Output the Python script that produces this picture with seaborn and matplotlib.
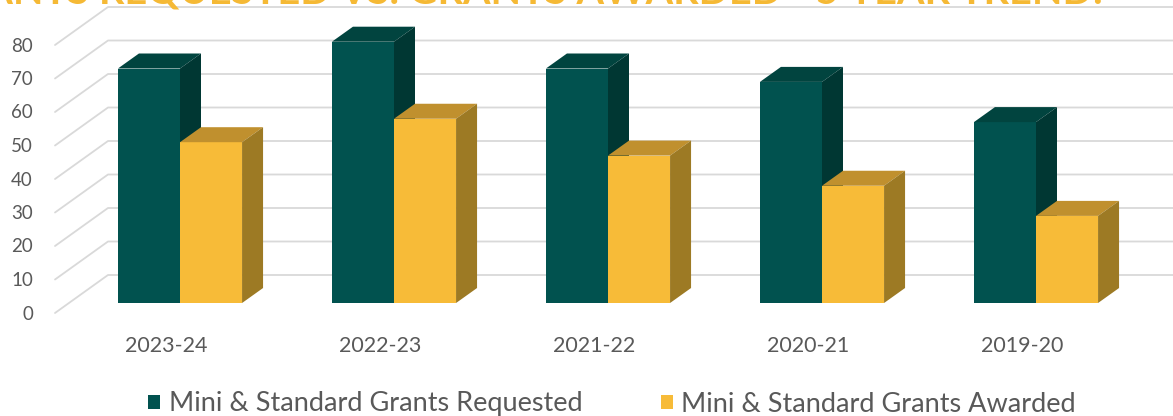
import matplotlib
matplotlib.use("Agg")
import matplotlib.pyplot as plt
import matplotlib.transforms as mtransforms
from matplotlib.patches import Polygon, Patch
from matplotlib.lines import Line2D
import seaborn as sns
import pandas as pd

# ---- data ----
years = ["2023-24", "2022-23", "2021-22", "2020-21", "2019-20"]
requested = [70, 78, 70, 66, 54]
awarded = [48, 55, 44, 35, 26]
series_names = ["Mini & Standard Grants Requested", "Mini & Standard Grants Awarded"]
y_ticks = [0, 10, 20, 30, 40, 50, 60, 70, 80]
title = "GRANTS REQUESTED VS. GRANTS AWARDED - 5 YEAR TREND:"

# ---- style ----
sns.set_theme(style="white")
plt.rcParams["font.family"] = ["Lato", "DejaVu Sans"]
TEXT = "#595959"
GRID = "#D9D9D9"
front_cols = ["#01524F", "#F7BB38"]
top_cols = ["#01443F", "#C0902E"]
side_cols = ["#003733", "#9D7A24"]

W, H, DPI = 1173, 416, 100
fig = plt.figure(figsize=(W / DPI, H / DPI), dpi=DPI)
fig.patch.set_facecolor("white")

# axes = plane of the bars' front faces (pixel geometry)
ax_left, ax_bottom, ax_w, ax_h = 69, 113, 1104, 268
ax = fig.add_axes([ax_left / W, ax_bottom / H, ax_w / W, ax_h / H])

df = pd.DataFrame({
    "year": years * 2,
    "series": [series_names[0]] * len(years) + [series_names[1]] * len(years),
    "value": requested + awarded,
})

sns.barplot(data=df, x="year", y="value", hue="series", order=years,
            hue_order=series_names, palette=front_cols, saturation=1,
            width=0.58, dodge=True, legend=False, ax=ax, linewidth=0)

cat_step = 214.0
xmin = -(180 - ax_left) / cat_step
ax.set_xlim(xmin, xmin + ax_w / cat_step)
ax.set_ylim(0, 80)
ax.set_autoscale_on(False)
for s in ax.spines.values():
    s.set_visible(False)
ax.set_xticks([])
ax.set_yticks([])
ax.set_xlabel("")
ax.set_ylabel("")
ax.patch.set_alpha(0)

# depth offsets (pixels, display coords y-up)
BACK = (39, 28)      # bar plane -> back wall
FRONT = (-14, -10)   # bar plane -> front (label) plane
DEPTH = (21, 15)     # bar depth

ident = mtransforms.IdentityTransform()
def disp(x, y, off=(0, 0)):
    px, py = ax.transData.transform((x, y))
    return (px + off[0], py + off[1])

# back-wall gridlines and left-wall diagonals
for v in y_ticks:
    a = disp(xmin, v, FRONT)
    b = disp(xmin, v, BACK)
    c = (W + 5, b[1])
    ax.add_line(Line2D([a[0], b[0], c[0]], [a[1], b[1], c[1]], transform=ident,
                       color=GRID, lw=1.3, zorder=1, clip_on=False))
    # tick labels on the front plane
    ax.text(xmin, v, str(v), transform=ax.transData + mtransforms.Affine2D().translate(-22 + FRONT[0], FRONT[1] - 1),
            ha="right", va="center", fontsize=13.5, color=TEXT, clip_on=False)

# category labels on front plane
for i, yr in enumerate(years):
    ax.text(i, 0, yr, transform=ax.transData + mtransforms.Affine2D().translate(FRONT[0], -43),
            ha="center", va="center", fontsize=15.5, color=TEXT, clip_on=False)

# 3D faces for every bar
bars = [p for p in ax.patches if p.get_height() > 0]
n = len(years)
for k, p in enumerate(bars):
    s = k // n
    x0, y0 = p.get_x(), p.get_y()
    x1, y1 = x0 + p.get_width(), y0 + p.get_height()
    z = 5 + s
    p.set_zorder(z)
    top = [disp(x0, y1), disp(x1, y1), disp(x1, y1, DEPTH), disp(x0, y1, DEPTH)]
    side = [disp(x1, y0), disp(x1, y1), disp(x1, y1, DEPTH), disp(x1, y0, DEPTH)]
    ax.add_patch(Polygon(top, closed=True, transform=ident, facecolor=top_cols[s],
                         edgecolor="none", zorder=z, clip_on=False))
    ax.add_patch(Polygon(side, closed=True, transform=ident, facecolor=side_cols[s],
                         edgecolor="none", zorder=z, clip_on=False))

# legend
handles = [Patch(facecolor=front_cols[i], edgecolor="none", label=series_names[i]) for i in range(2)]
fig.legend(handles=handles, loc="center", bbox_to_anchor=(612 / W, 12 / H), ncol=2,
           frameon=False, fontsize=19.5, labelcolor=TEXT, handlelength=0.45, handleheight=0.45,
           handletextpad=0.3, columnspacing=2.9, borderpad=0)

# cropped title at the very top (cut off by the image edge, as in the reference)
fig.text(1103 / W, 1 - 3.5 / H, title, ha="right", va="baseline", color="#F5B935",
         fontsize=28.5, fontweight="bold")

fig.savefig("out.png", dpi=DPI, facecolor="white")
